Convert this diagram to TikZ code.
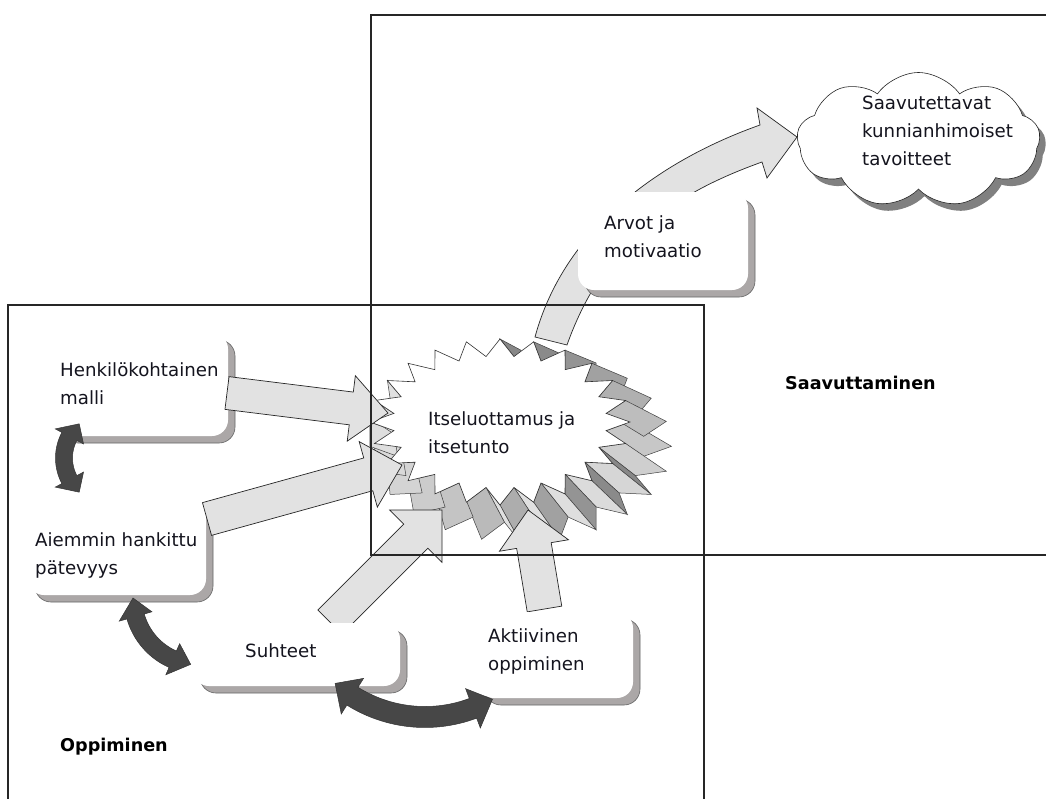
\documentclass[tikz,border=0pt]{standalone}
\usepackage{fontspec}
\setmainfont{DejaVu Sans}
\usetikzlibrary{calc,shapes.symbols,shadows}

\definecolor{arrowfill}{HTML}{E2E2E2}
\definecolor{pairfill}{HTML}{474747}
\definecolor{shadowfill}{HTML}{ABA7A7}
\definecolor{inktext}{HTML}{14141E}

\tikzset{
  lightarrow/.style={fill=arrowfill, draw=black!85, line width=0.7pt, line join=miter},
  pairarrow/.style={fill=pairfill, draw=black!80, line width=0.5pt},
  roundbox/.style={rectangle, rounded corners=16pt, fill=white, inner sep=0pt,
    general shadow={shadow xshift=7pt, shadow yshift=-7pt, fill=shadowfill, draw=black!60, line width=0.6pt}},
  boxtext/.style={font=\fontsize{18.2}{28}\selectfont, text=inktext, align=left, inner sep=0pt, anchor=west},
  areatitle/.style={font=\bfseries\fontsize{17.6}{20}\selectfont, text=black, inner sep=0pt, anchor=west},
  areaframe/.style={draw=black!85, line width=1.1pt},
}

% straight block arrow from #1 to #2: shaft half width #3, head half width #4, head length #5
\newcommand\blockarrow[5]{%
  \pgfpointdiff{\pgfpointanchor{#1}{center}}{\pgfpointanchor{#2}{center}}%
  \pgfgetlastxy\baDx\baDy
  \pgfmathsetmacro\baAng{atan2(\baDy,\baDx)}%
  \pgfmathsetmacro\baLen{veclen(\baDx,\baDy)}%
  \pgfmathsetmacro\baNeck{\baLen-#5}%
  \begin{scope}[shift={(#1)}, rotate=\baAng, x=1pt, y=1pt]
    \filldraw[lightarrow] (0,#3) -- (\baNeck,#3) -- (\baNeck,#4) -- (\baLen,0)
      -- (\baNeck,-#4) -- (\baNeck,-#3) -- (0,-#3) -- cycle;
  \end{scope}}

% curved two-headed arrow round centre #1, radius #2, from angle #3 to #4,
% shaft half width #5, head half width #6, head length (degrees) #7
\newcommand\bentpair[7]{%
  \begin{scope}[shift={(#1)}]
    \pgfmathsetmacro\bpA{#3+#7}%
    \pgfmathsetmacro\bpB{#4-#7}%
    \pgfmathsetmacro\bpRo{#2+#5}%
    \pgfmathsetmacro\bpRi{#2-#5}%
    \pgfmathsetmacro\bpHo{#2+#6}%
    \pgfmathsetmacro\bpHi{#2-#6}%
    \filldraw[pairarrow] (\bpA:\bpRo) -- (\bpA:\bpHo) -- (#3:#2) -- (\bpA:\bpHi) -- (\bpA:\bpRi)
      -- plot[domain=\bpA:\bpB, samples=30, variable=\t] (\t:\bpRi)
      -- (\bpB:\bpHi) -- (#4:#2) -- (\bpB:\bpHo) -- (\bpB:\bpRo)
      -- plot[domain=\bpB:\bpA, samples=30, variable=\t] (\t:\bpRo) -- cycle;
  \end{scope}}

\begin{document}
\begin{tikzpicture}[x=1pt, y=-1pt]
\useasboundingbox[fill=white] (0,0) rectangle (1046,798);

% ---------- central burst with its extruded rim ----------
\coordinate (burst) at (500,422);
\coordinate (depth) at (371,270);
\foreach \i in {0,...,47}{
  \pgfmathsetmacro\xa{500+(118.5+11.5*cos(180*\i))*cos(7.5*\i)}
  \pgfmathsetmacro\ya{422+(74.5+8.5*cos(180*\i))*sin(7.5*\i)}
  \pgfmathsetmacro\xb{500+(118.5+11.5*cos(180*(\i+1)))*cos(7.5*(\i+1))}
  \pgfmathsetmacro\yb{422+(74.5+8.5*cos(180*(\i+1)))*sin(7.5*(\i+1))}
  \pgfmathsetmacro\nx{\yb-\ya}
  \pgfmathsetmacro\ny{\xa-\xb}
  \pgfmathsetmacro\facing{\nx*(((\xa+\xb)/2-371)/100)+\ny*(((\ya+\yb)/2-270)/100)}
  \pgfmathtruncatemacro\shade{30+18*(\nx-\ny)*0.7071/veclen(\nx,\ny)}
  \ifdim\facing pt>0pt
    \filldraw[fill=black!\shade, draw=black!75, line width=0.5pt]
      (\xa,\ya) -- (\xb,\yb)
      -- ({371+1.16*(\xb-371)},{270+1.16*(\yb-270)})
      -- ({371+1.16*(\xa-371)},{270+1.16*(\ya-270)}) -- cycle;
  \fi
}
\filldraw[fill=white, draw=black!80, line width=0.6pt]
  plot[samples=49, domain=0:48, variable=\t]
  ({500+(118.5+11.5*cos(180*\t))*cos(7.5*\t)},{422+(74.5+8.5*cos(180*\t))*sin(7.5*\t)}) -- cycle;

% ---------- curved arrow up to the goals ----------
\coordinate (a5-base-l) at (535,337);
\coordinate (a5-base-r) at (567,345);
\coordinate (a5-tip) at (797,137);
\filldraw[lightarrow] (a5-base-l) .. controls (565,226) and (664,159) .. (760,125)
  -- (757,108) -- (a5-tip) -- (767,178) -- (762,162)
  .. controls (687,189) and (607,232) .. (a5-base-r) -- cycle;

% ---------- arrows into the burst from below ----------
\coordinate (a3-s) at (330,622);
\coordinate (a3-e) at (442,510);
\blockarrow{a3-s}{a3-e}{17}{37}{37}
\coordinate (a4-s) at (544.5,609);
\coordinate (a4-e) at (528,510);
\blockarrow{a4-s}{a4-e}{17.5}{35}{36}

% ---------- boxes ----------
\node[roundbox, minimum width=173pt, minimum height=103pt] (hm) at (141.5,384.5) {};
\node[roundbox, minimum width=178pt, minimum height=100pt] (ap) at (117,545) {};
\node[roundbox, minimum width=207pt, minimum height=63pt] (su) at (296.5,654.5) {};
\node[roundbox, minimum width=155pt, minimum height=86pt] (ak) at (555.5,655) {};
\node[roundbox, minimum width=170pt, minimum height=98pt] (av) at (663,241) {};

% ---------- arrows from the left boxes ----------
\coordinate (a1-s) at (227,393);
\coordinate (a1-e) at (388,413);
\blockarrow{a1-s}{a1-e}{16.5}{33}{37}
\coordinate (a2-s) at (207,519);
\coordinate (a2-e) at (402,465);
\blockarrow{a2-s}{a2-e}{17}{34}{35}

% ---------- two-headed links between the learning boxes ----------
\coordinate (pair1) at (110,458);
\bentpair{pair1}{46}{132}{228}{8.5}{16}{20}
\coordinate (pair2) at (200,598);
\bentpair{pair2}{67}{98}{180}{9}{17}{16}
\coordinate (pair3) at (425,580);
\bentpair{pair3}{137}{60.5}{131}{10.5}{21}{9}

% ---------- goal cloud ----------
\node[cloud, cloud puffs=9, cloud puff arc=110, cloud ignores aspect, minimum width=243pt, minimum height=135pt,
      fill=white, draw=black!85, line width=0.6pt, inner sep=0pt,
      general shadow={shadow xshift=6pt, shadow yshift=-7pt, fill=black!50}] (goal) at (918.5,140) {};

% ---------- area frames ----------
\draw[areaframe] (371,15) rectangle (1070,555);
\draw[areaframe] (8,305) rectangle (704,820);

% ---------- texts ----------
\node[boxtext] (hm-t) at (60,383.5) {Henkilökohtainen\\malli};
\node[boxtext] (ap-t) at (35,555) {Aiemmin hankittu\\pätevyys};
\node[boxtext] (su-t) at (245,651) {Suhteet};
\node[boxtext] (ak-t) at (488,651) {Aktiivinen\\oppiminen};
\node[boxtext] (av-t) at (604,237) {Arvot ja\\motivaatio};
\node[boxtext] (burst-t) at (428,433) {Itseluottamus ja\\itsetunto};
\node[boxtext] (goal-t) at (862,130.5) {Saavutettavat\\kunnianhimoiset\\tavoitteet};
\node[areatitle] (achieve-t) at (785,383) {Saavuttaminen};
\node[areatitle] (learn-t) at (60,747) {Oppiminen};
\end{tikzpicture}
\end{document}
